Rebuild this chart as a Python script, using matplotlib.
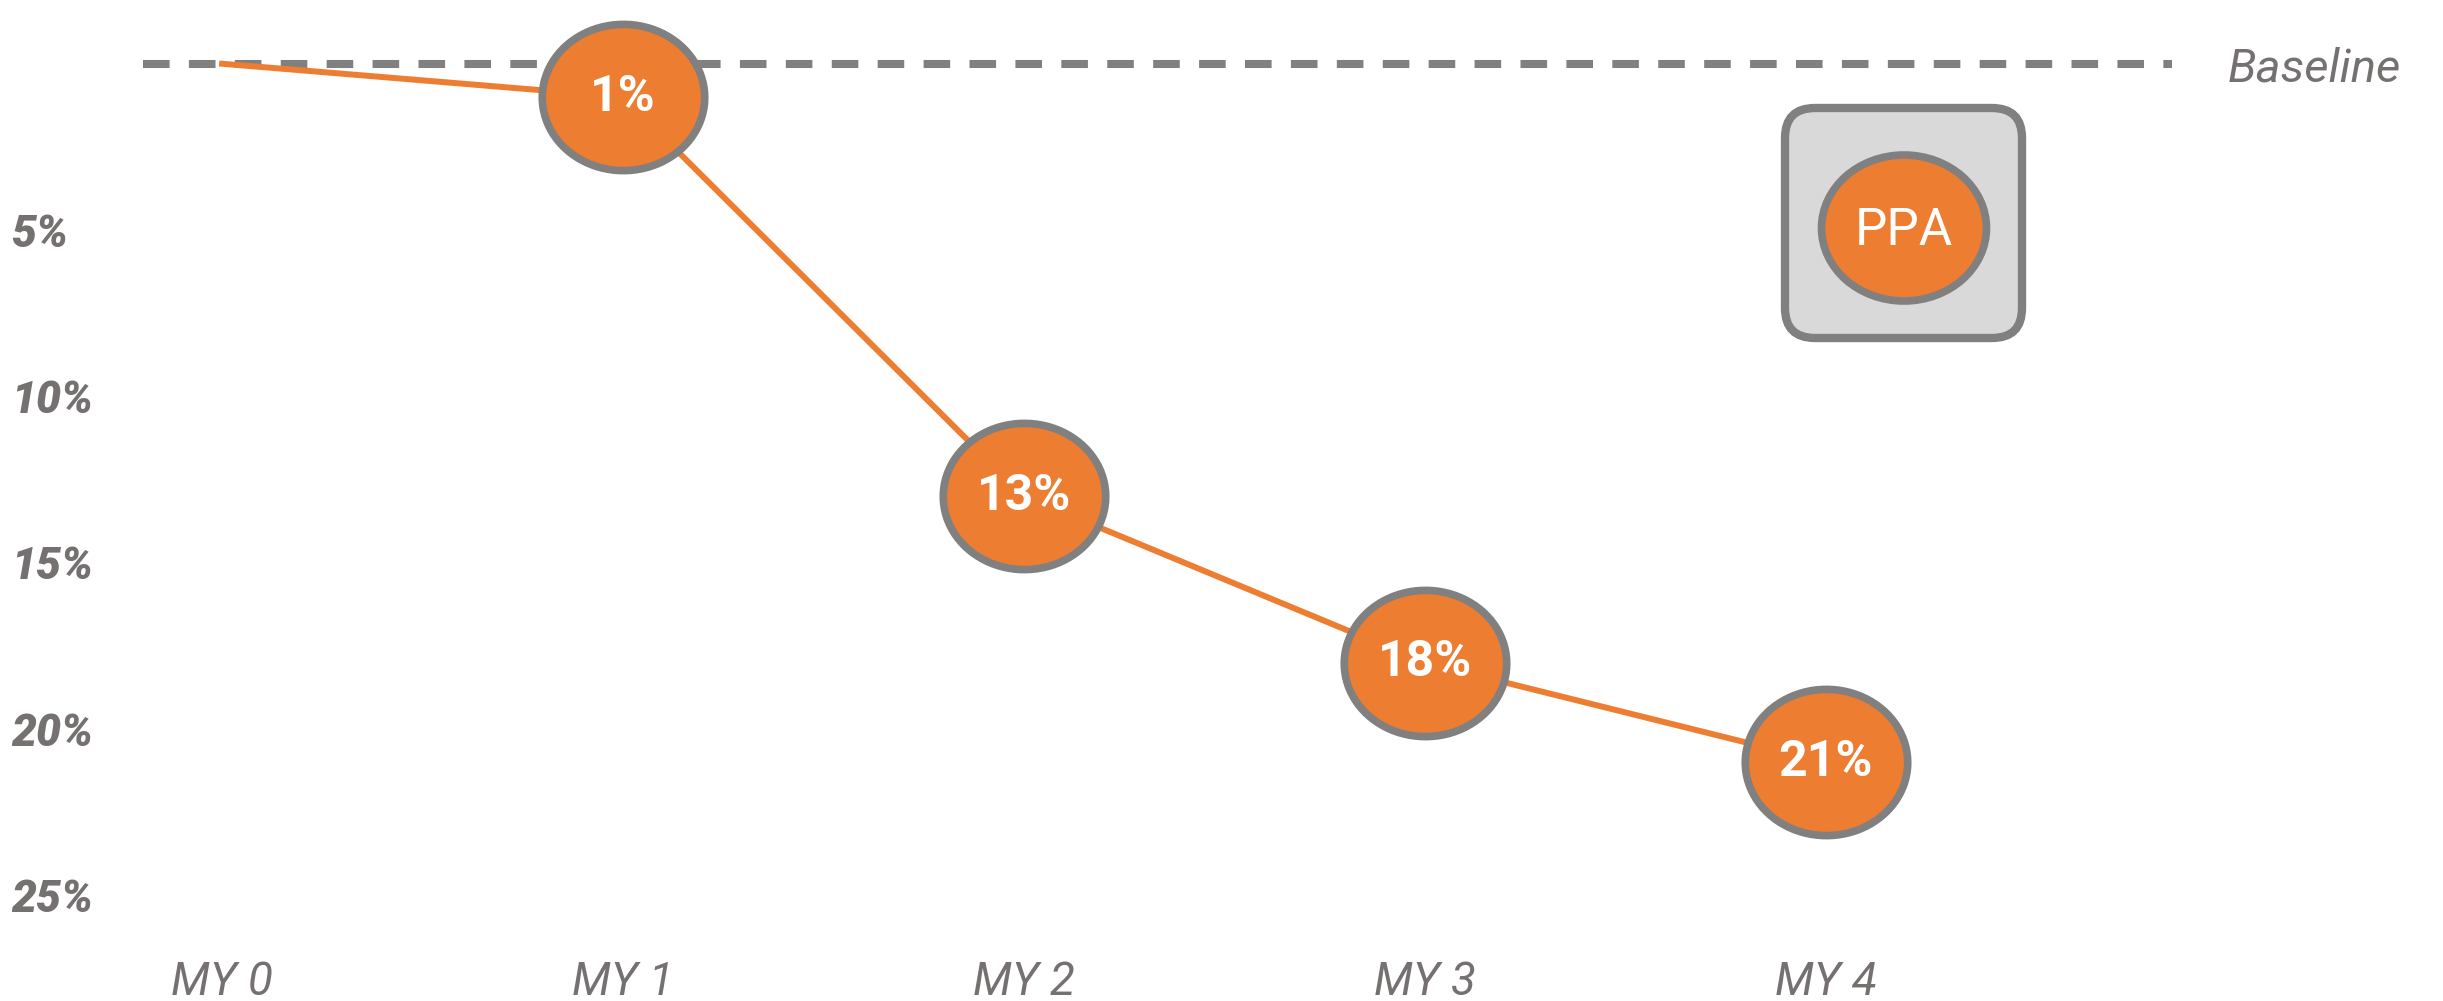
import matplotlib
matplotlib.use("Agg")
import matplotlib.pyplot as plt
from matplotlib.path import Path
from matplotlib.patches import FancyBboxPatch, Ellipse
import numpy as np

# Data
categories = ["MY 0", "MY 1", "MY 2", "MY 3", "MY 4"]
values = [0, 1, 13, 18, 21]
point_labels = ["", "1%", "13%", "18%", "21%"]
y_ticks = [5, 10, 15, 20, 25]
y_tick_labels = ["5%", "10%", "15%", "20%", "25%"]

ORANGE = "#ED7D31"
GRAY = "#808080"
TEXT_GRAY = "#767171"
FONT = ["Roboto", "DejaVu Sans"]

fig = plt.figure(figsize=(24.43, 10.01), dpi=100)
ax = fig.add_axes([0, 0, 1, 1])
x = np.arange(len(categories))

ax.set_xlim(-0.554, 5.539)
ax.set_ylim(28.174, -1.916)

# baseline
ax.axhline(0, xmin=0.0585, xmax=0.889, color=GRAY, lw=5.8,
           dashes=(3.3, 2.4), zorder=1)
ax.text(0.912, 0.15, "Baseline", transform=ax.get_yaxis_transform(),
        ha="left", va="center", fontsize=34, style="italic",
        family=FONT, color=TEXT_GRAY)

# series line
ax.plot(x, values, color=ORANGE, lw=4.3, zorder=2)

# ellipse markers
t = np.linspace(0, 2 * np.pi, 90)
ell = Path(np.column_stack([np.cos(t), 0.9 * np.sin(t)]), closed=True)
ax.scatter(x[1:], values[1:], s=117 ** 2, marker=ell, facecolor=ORANGE,
           edgecolor=GRAY, linewidths=5.5, zorder=3)
for xi, v, lab in zip(x, values, point_labels):
    if lab:
        ax.text(xi, v, lab, ha="center", va="center", color="white",
                fontsize=36, fontweight="bold", fontstretch="condensed",
                family=FONT, zorder=4)

# axes styling
for s in ax.spines.values():
    s.set_visible(False)
ax.set_xticks(x)
ax.set_xticklabels(categories)
ax.set_yticks(y_ticks)
ax.set_yticklabels(y_tick_labels)
ax.tick_params(axis="x", length=0, pad=-29.5)
ax.tick_params(axis="y", length=0, pad=-8)
for lab in ax.get_xticklabels():
    lab.set_fontsize(33)
    lab.set_style("italic")
    lab.set_fontstretch("condensed")
    lab.set_family(FONT)
    lab.set_color(TEXT_GRAY)
for lab in ax.get_yticklabels():
    lab.set_horizontalalignment("left")
    lab.set_fontsize(32)
    lab.set_style("italic")
    lab.set_fontweight("heavy")
    lab.set_family(FONT)
    lab.set_color(TEXT_GRAY)

# legend box
tr = fig.dpi_scale_trans
box = FancyBboxPatch((17.85, 6.63), 2.37, 2.30,
                     boxstyle="round,pad=0,rounding_size=0.3",
                     transform=tr, facecolor="#D9D9D9", edgecolor=GRAY,
                     linewidth=6, zorder=5)
fig.patches.append(box)
leg_ell = Ellipse((19.04, 7.73), 1.65, 1.46, transform=tr,
                  facecolor=ORANGE, edgecolor=GRAY, linewidth=5.5, zorder=6)
fig.patches.append(leg_ell)
fig.text(19.04 / 24.43, 7.70 / 10.01, "PPA", ha="center", va="center",
         color="white", fontsize=37, family=FONT, zorder=7)

fig.savefig("out.png", dpi=100)
